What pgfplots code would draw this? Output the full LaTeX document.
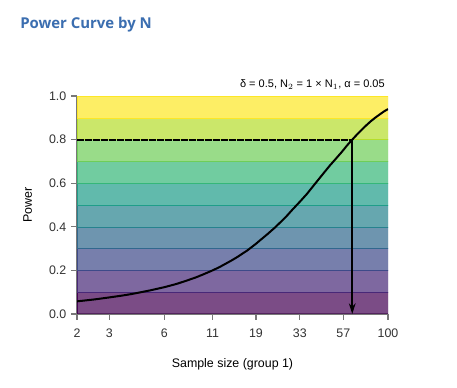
\documentclass[border=0pt]{standalone}
\usepackage{pgfplots}
\pgfplotsset{compat=1.18}
\usepackage{fontspec}
\setmainfont{Liberation Sans}
\newfontfamily\titlefont{Open Sans}
\usetikzlibrary{arrows.meta}
\definecolor{v0}{HTML}{440154}
\definecolor{v1}{HTML}{482878}
\definecolor{v2}{HTML}{3E4A89}
\definecolor{v3}{HTML}{31688E}
\definecolor{v4}{HTML}{26828E}
\definecolor{v5}{HTML}{1F9E89}
\definecolor{v6}{HTML}{35B779}
\definecolor{v7}{HTML}{6ECE58}
\definecolor{v8}{HTML}{B5DE2B}
\definecolor{v9}{HTML}{FDE725}
\definecolor{titleblue}{RGB}{59,110,176}
\definecolor{axgray}{RGB}{120,120,120}
\begin{document}
\begin{tikzpicture}
\path[use as bounding box, fill=white] (-57.75pt,-55.5pt) rectangle (285pt,235.5pt);
\begin{axis}[
  scale only axis, width=233.25pt, height=163.5pt,
  xmode=log, xmin=2, xmax=100, ymin=0, ymax=1,
  axis x line*=bottom, axis y line*=left,
  axis line style={axgray, line width=0.8pt},
  tick style={axgray, line width=0.8pt},
  tick align=outside, major tick length=4.5pt,
  xtick={2,3,6,11,19,33,57,100},
  xticklabels={2,3,6,11,19,33,57,100},
  ytick={0,0.2,0.4,0.6,0.8,1.0},
  yticklabel style={/pgf/number format/fixed, /pgf/number format/fixed zerofill, /pgf/number format/precision=1},
  /pgf/number format/assume math mode=true,
  ticklabel style={font=\fontsize{9.3}{10}\selectfont, text=black!80},
  xticklabel style={yshift=-3pt},
  minor tick num=0, log ticks with fixed point,
  xlabel={Sample size (group 1)}, ylabel={Power},
  label style={font=\fontsize{9.3}{10}\selectfont},
  xlabel style={yshift=-9pt},
  ylabel style={yshift=6pt},
  clip=true,
]
\addplot[fill=v0, fill opacity=0.7, draw=v0, line width=0.4pt] coordinates {(2,0) (100,0) (100,0.1) (2,0.1)} -- cycle;
\addplot[fill=v1, fill opacity=0.7, draw=v1, line width=0.4pt] coordinates {(2,0.1) (100,0.1) (100,0.2) (2,0.2)} -- cycle;
\addplot[fill=v2, fill opacity=0.7, draw=v2, line width=0.4pt] coordinates {(2,0.2) (100,0.2) (100,0.3) (2,0.3)} -- cycle;
\addplot[fill=v3, fill opacity=0.7, draw=v3, line width=0.4pt] coordinates {(2,0.3) (100,0.3) (100,0.4) (2,0.4)} -- cycle;
\addplot[fill=v4, fill opacity=0.7, draw=v4, line width=0.4pt] coordinates {(2,0.4) (100,0.4) (100,0.5) (2,0.5)} -- cycle;
\addplot[fill=v5, fill opacity=0.7, draw=v5, line width=0.4pt] coordinates {(2,0.5) (100,0.5) (100,0.6) (2,0.6)} -- cycle;
\addplot[fill=v6, fill opacity=0.7, draw=v6, line width=0.4pt] coordinates {(2,0.6) (100,0.6) (100,0.7) (2,0.7)} -- cycle;
\addplot[fill=v7, fill opacity=0.7, draw=v7, line width=0.4pt] coordinates {(2,0.7) (100,0.7) (100,0.8) (2,0.8)} -- cycle;
\addplot[fill=v8, fill opacity=0.7, draw=v8, line width=0.4pt] coordinates {(2,0.8) (100,0.8) (100,0.9) (2,0.9)} -- cycle;
\addplot[fill=v9, fill opacity=0.7, draw=v9, line width=0.4pt] coordinates {(2,0.9) (100,0.9) (100,1.0) (2,1.0)} -- cycle;
\addplot[black, line width=1.5pt, line join=round] coordinates {
(2,0.058) (2.5,0.067) (3,0.076) (3.5,0.084) (4,0.092) (5,0.108) (6,0.123) (7,0.138) (8,0.154) (9,0.169) (10,0.185)
(11,0.200) (12,0.215) (13,0.231) (14,0.246) (15,0.261) (17,0.291) (19,0.322) (20,0.338) (22,0.367) (24,0.395) (26,0.423) (28,0.450) (30,0.478) (33,0.515)
(36,0.550) (40,0.598) (44,0.641) (48,0.680) (52,0.713) (56,0.744) (60,0.775) (64,0.801) (68,0.825) (72,0.846) (76,0.865) (80,0.882)
(85,0.900) (90,0.915) (95,0.929) (100,0.940)};
\addplot[black, line width=1.5pt, dash pattern=on 5pt off 1pt] coordinates {(2,0.8) (63.8,0.8)};
\addplot[black, line width=1.5pt, -{Stealth[length=8pt,width=5pt]}] coordinates {(63.8,0.8) (63.8,0.0)};
\end{axis}
\node[anchor=base west, inner sep=0pt, font=\titlefont\bfseries\fontsize{11.2}{13}\selectfont, text=titleblue] at (-42.75pt,213.75pt) {Power Curve by N};
\node[anchor=base east, font=\fontsize{8.25}{9}\selectfont, inner sep=0pt] at (231pt,169.5pt) {δ = 0.5, N$_2$ = 1 × N$_1$, α = 0.05};
\end{tikzpicture}
\end{document}
